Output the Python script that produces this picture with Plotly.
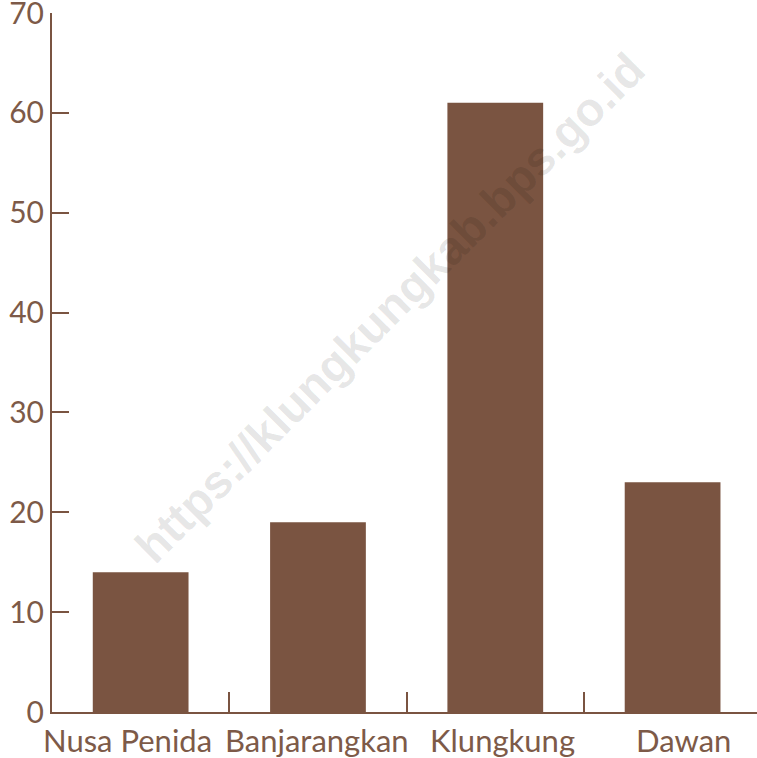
import plotly.graph_objects as go

categories = ["Nusa Penida", "Banjarangkan", "Klungkung", "Dawan"]
values = [14, 19, 61, 23]
y_ticks = [0, 10, 20, 30, 40, 50, 60, 70]
label_shift = [-13, -1, 7, 11]  # horizontal nudge of category labels, px

BROWN = "#7a5441"
TEXT = "#7d5a48"
FONT = "Lato"

fig = go.Figure()
fig.add_trace(go.Bar(x=categories, y=values, marker=dict(color=BROWN, line=dict(width=0)), width=0.54,
                     hoverinfo="skip"))

fig.update_layout(
    width=757, height=758,
    margin=dict(l=52, r=0, t=13, b=46, autoexpand=False),
    paper_bgcolor="white", plot_bgcolor="white",
    showlegend=False,
    font=dict(family=FONT, size=30, color=TEXT),
    xaxis=dict(type="category", range=[-0.5, 3.476], showline=True, linecolor=BROWN, linewidth=2,
               ticks="inside", tickson="boundaries", ticklen=20, tickwidth=2, tickcolor=BROWN,
               showticklabels=False, automargin=False,
               showgrid=False, zeroline=False),
    yaxis=dict(range=[0, 70], tickvals=y_ticks, showline=True, linecolor=BROWN, linewidth=2,
               ticks="inside", ticklen=17, tickwidth=2, tickcolor=BROWN, showgrid=False,
               automargin=False, ticklabeloverflow="allow",
               zeroline=False, tickfont=dict(family=FONT, size=30, color=TEXT)),
)

for cat, dx in zip(categories, label_shift):
    fig.add_annotation(text=cat, x=cat, y=0, xref="x", yref="y", showarrow=False,
                       xanchor="center", yanchor="middle", xshift=dx, yshift=-28,
                       font=dict(family=FONT, size=31, color=TEXT))

fig.add_annotation(text="<b>https://klungkungkab.bps.go.id</b>", xref="paper", yref="paper",
                   x=0.479, y=0.579, showarrow=False, textangle=-45,
                   font=dict(family="Liberation Sans", size=47, color="rgba(0,0,0,0.1)"),
                   xanchor="center", yanchor="middle")

fig.write_html("out.html", config={"displayModeBar": False},
               post_script="document.body.style.margin='0';document.body.style.overflow='hidden';")
